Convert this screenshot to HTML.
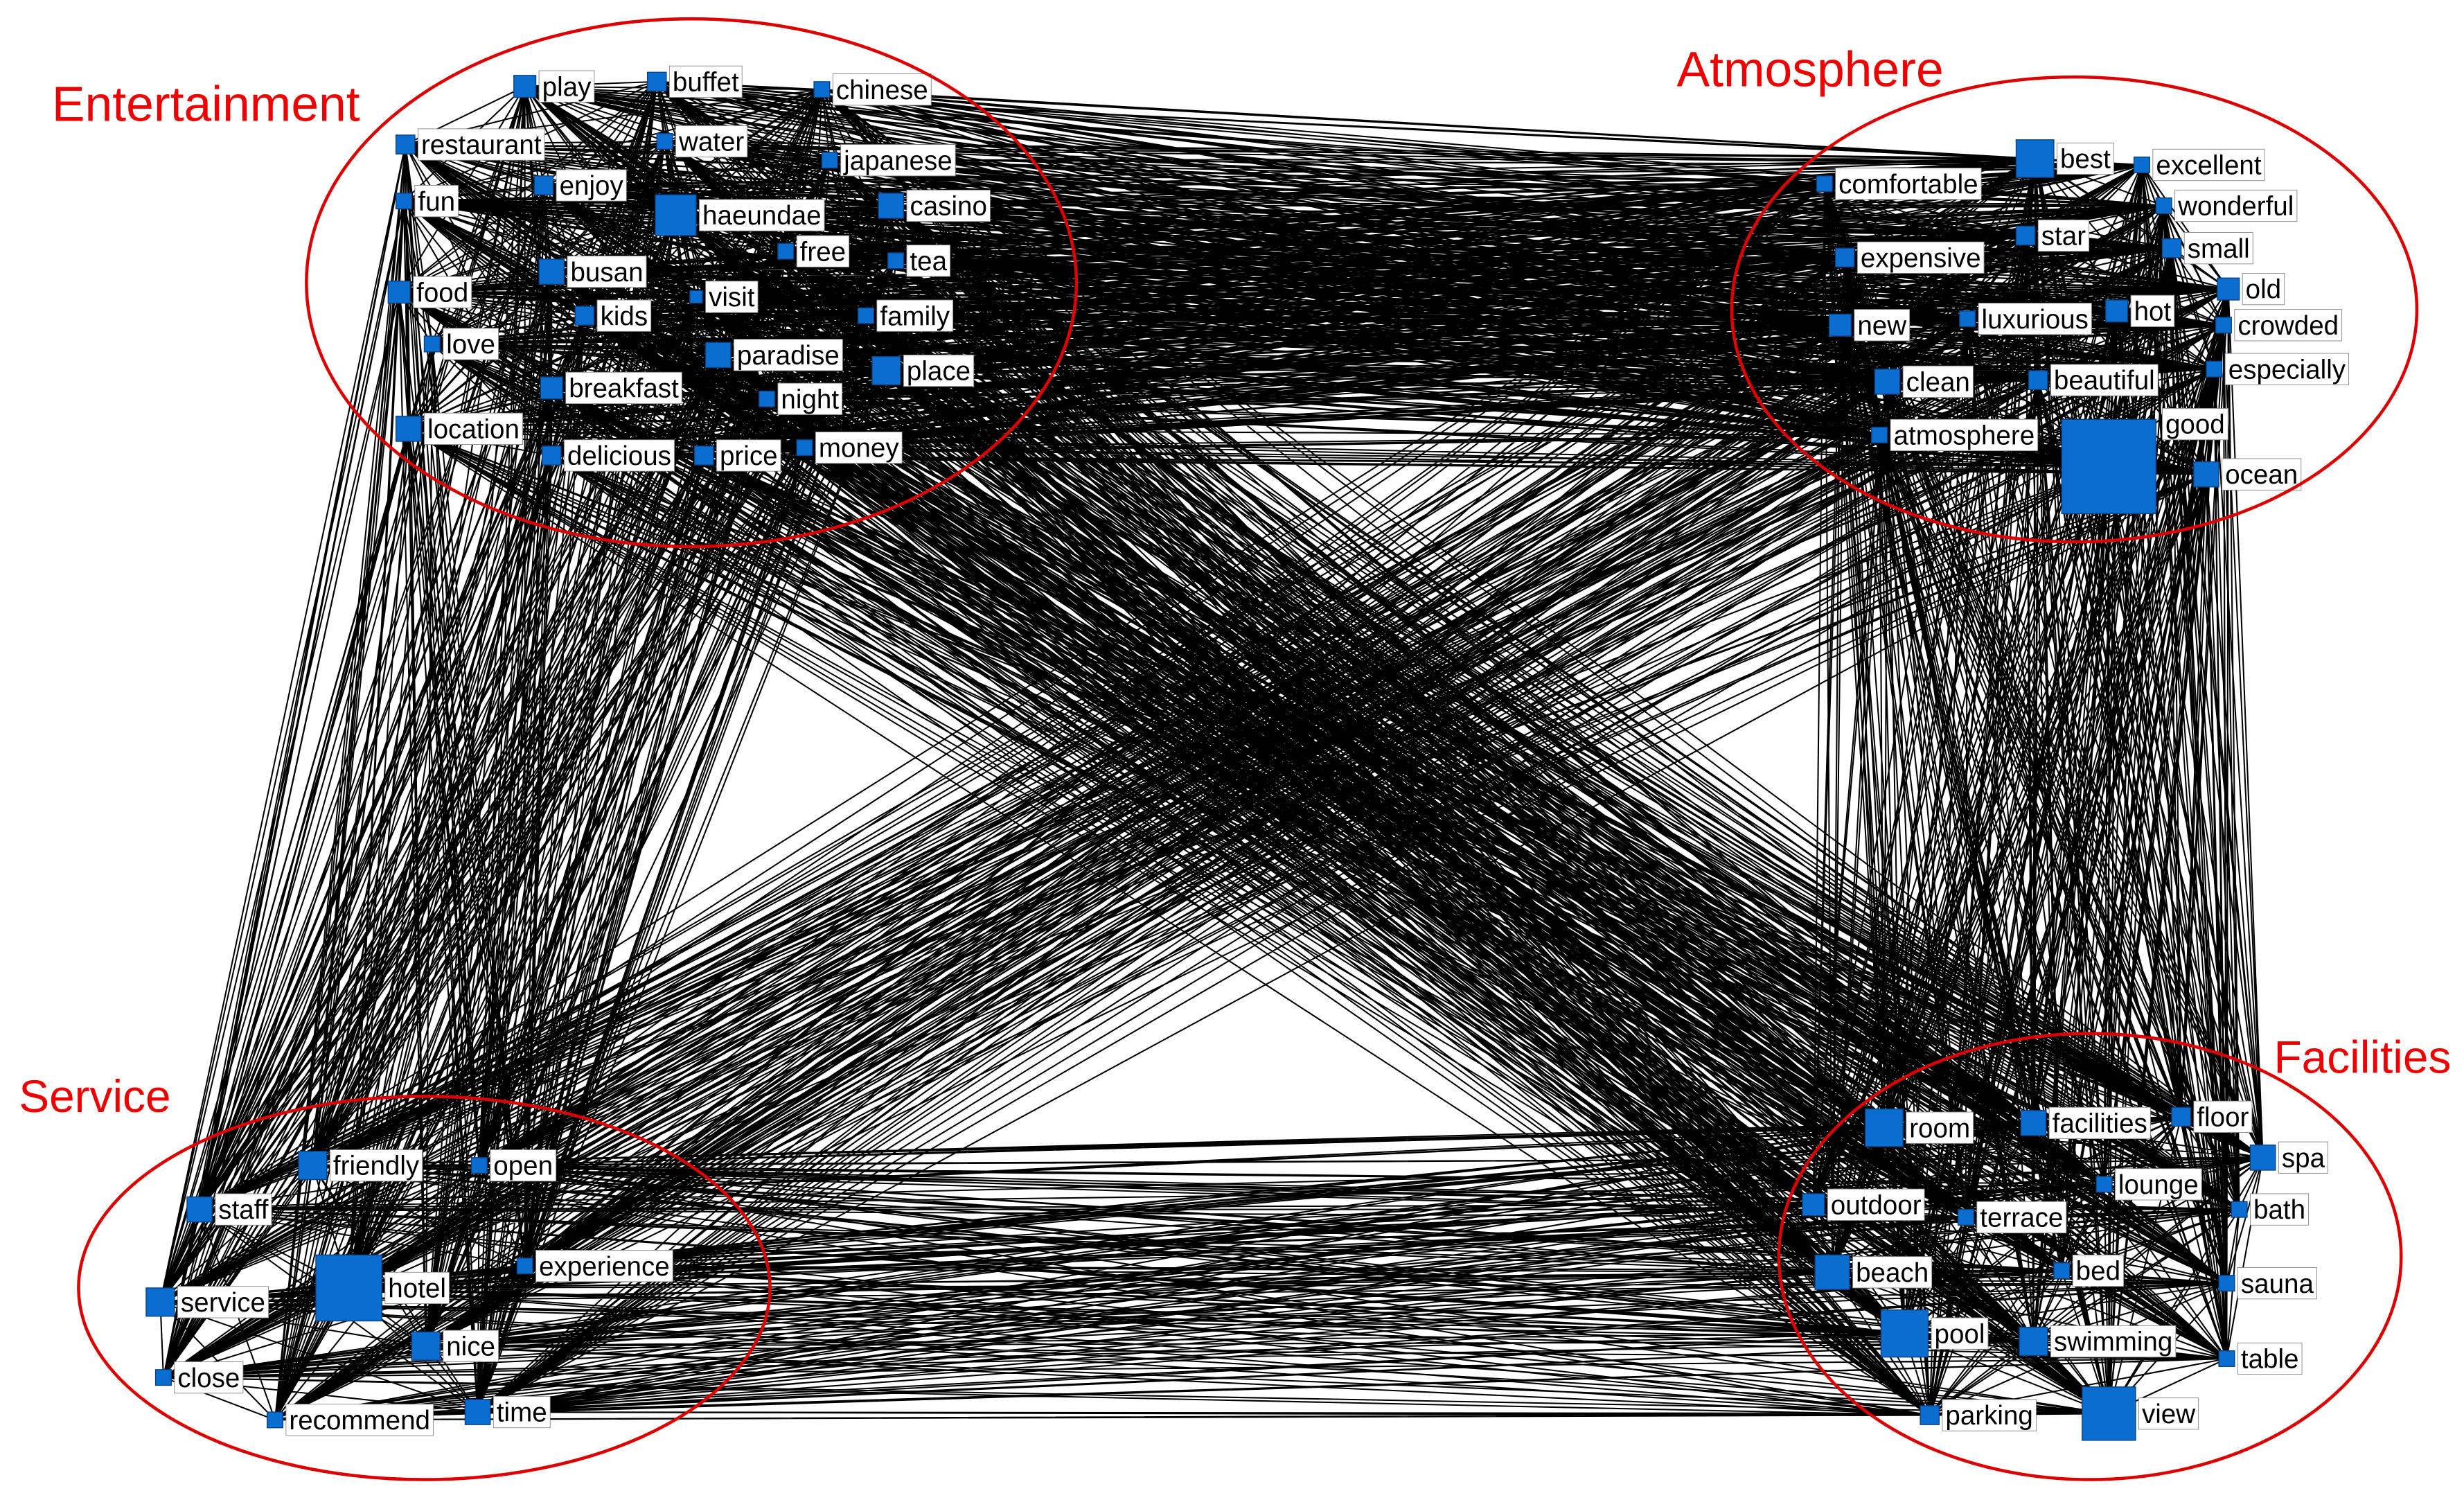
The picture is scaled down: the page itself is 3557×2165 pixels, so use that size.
<!DOCTYPE html>
<html><head><meta charset="utf-8">
<style>
html,body{margin:0;padding:0;background:#fff;}
svg{display:block;}
text{font-family:"Liberation Sans","DejaVu Sans",sans-serif;}
</style></head>
<body>
<svg id="s" width="3557" height="2165" viewBox="0 0 1568 955" preserveAspectRatio="none" xmlns="http://www.w3.org/2000/svg">
<rect width="1568" height="955" fill="#fff"/>
<g id="edges" stroke="#000" stroke-width="0.9"></g>
<g id="nodes"></g>
<g fill="none" stroke="#d00" stroke-width="2">
<ellipse cx="440" cy="180" rx="245" ry="168"/>
<ellipse cx="1320" cy="197" rx="218" ry="148"/>
<ellipse cx="270" cy="820" rx="220" ry="122"/>
<ellipse cx="1330" cy="800" rx="198" ry="142"/>
</g>
<g fill="#e00" font-size="31.5">
<text x="33" y="77">Entertainment</text>
<text x="1067" y="55">Atmosphere</text>
<text x="12" y="708" font-size="29">Service</text>
<text x="1447" y="683" font-size="29">Facilities</text>
</g>
</svg>
<script>
var N=[
["play",334,55,14],["buffet",418,52,12],["chinese",523,57,10],["restaurant",258,92,12],["water",423,90,10],["japanese",528,102,10],["fun",257,128,10],["enjoy",346,118,12],["haeundae",430,137,26],["casino",567,131,16],["busan",351,173,16],["free",500,160,10],["tea",570,166,10],["food",254,186,14],["visit",443,189,8],["family",551,201,10],["kids",372,201,12],["love",275,219,10],["paradise",457,226,16],["breakfast",351,247,14],["place",564,236,18],["night",488,254,10],["location",260,273,16],["delicious",351,290,12],["price",448,290,12],["money",512,285,10],
["best",1295,101,24],["excellent",1363,105,10],["comfortable",1161,117,10],["wonderful",1377,131,10],["star",1289,150,12],["small",1382,158,12],["expensive",1174,164,12],["old",1418,184,14],["luxurious",1252,203,10],["hot",1347,198,14],["crowded",1415,207,10],["new",1171,207,14],["especially",1409,235,10],["clean",1201,243,16],["beautiful",1297,242,12],["atmosphere",1196,277,10],["good",1342,297,60],["ocean",1404,302,16],
["friendly",199,742,18],["open",305,742,10],["staff",127,770,16],["hotel",222,820,42],["experience",334,806,10],["service",102,829,18],["nice",271,857,18],["close",104,877,10],["recommend",175,904,10],["time",304,899,16],
["room",1199,718,24],["facilities",1294,715,16],["floor",1388,711,12],["spa",1440,737,16],["lounge",1339,754,10],["outdoor",1154,767,14],["terrace",1251,775,10],["bath",1425,770,10],["beach",1166,810,22],["bed",1312,809,10],["sauna",1417,817,10],["pool",1212,849,30],["swimming",1294,854,18],["table",1417,865,10],["parking",1228,901,12],["view",1342,900,34]
];
var NS="http://www.w3.org/2000/svg";
var E=document.getElementById("edges"),G=document.getElementById("nodes");
function el(t,a,p){var e=document.createElementNS(NS,t);for(var k in a)e.setAttribute(k,a[k]);p.appendChild(e);return e;}
var d="";
for(var i=0;i<N.length;i++)for(var j=i+1;j<N.length;j++){d+="M"+N[i][1]+" "+N[i][2]+"L"+N[j][1]+" "+N[j][2];}
el("path",{d:d,fill:"none"},E);
N.forEach(function(n){
 var s=n[3],x=n[1],y=n[2];
 el("rect",{x:x-s/2,y:y-s/2,width:s,height:s,fill:"#0a6ed1",stroke:"#0a3f80","stroke-width":0.6},G);
});
N.forEach(function(n){
 var s=n[3],x=n[1],y=n[2];
 var lx=x+s/2+2, ly=y;
 if(n[0]=="good"){lx=1376;ly=270;}
 var r=el("rect",{x:lx,y:ly-10,width:10,height:20,fill:"#fff",stroke:"#888","stroke-width":0.4},G);
 var t=el("text",{x:lx+2,y:ly+6,"font-size":17,fill:"#000"},G);t.textContent=n[0];
 var w=t.getComputedTextLength?t.getComputedTextLength():n[0].length*8.5;
 r.setAttribute("width",w+4);
});
</script>
</body></html>
